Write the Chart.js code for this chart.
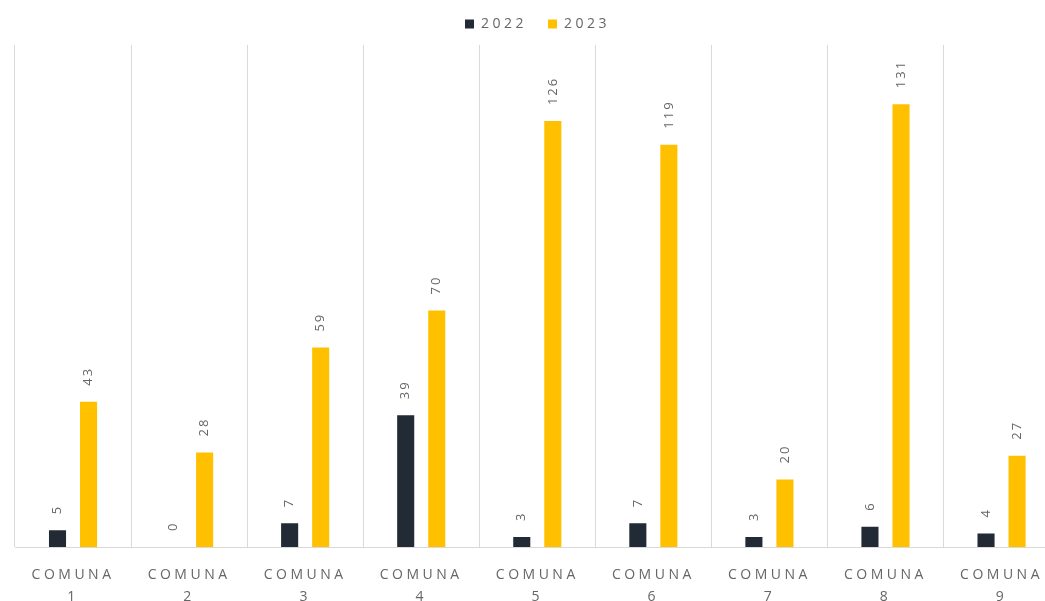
<!DOCTYPE html>
<html>
<head>
<meta charset="utf-8">
<script src="https://cdn.jsdelivr.net/npm/chart.js@4.4.0/dist/chart.umd.min.js"></script>
<style>
  html, body { margin: 0; padding: 0; background: #fff; overflow: hidden; }
  #wrap { width: 1060px; height: 625px; }
</style>
</head>
<body>
<div id="wrap"><canvas id="chart"></canvas></div>
<script>
// chart data
const comunas = ["1", "2", "3", "4", "5", "6", "7", "8", "9"];
const serie2022 = [5, 0, 7, 39, 3, 7, 3, 6, 4];
const serie2023 = [43, 28, 59, 70, 126, 119, 20, 131, 27];
const seriesNames = ["2022", "2023"];

const labels = comunas.map(n => ["COMUNA", n]);

const textGray = "#666666";
const font = "'Open Sans', sans-serif";

// letter spacing: legend a bit wide, x labels very wide (Excel look)
const spacingPlugin = {
  id: "spacing",
  beforeUpdate(chart) {
    // so the legend measures its text with the spacing too
    chart.ctx.letterSpacing = "3.5px";
    // a little more room under the legend
    const lg = chart.legend;
    if (lg && !lg._patched) {
      const fit = lg.fit;
      lg.fit = function () {
        fit.call(this);
        this.height += 4;
      };
      lg._patched = true;
    }
  },
  afterUpdate(chart) {
    const xs = chart.scales.x;
    const orig = Object.getPrototypeOf(xs).draw;
    xs.draw = function (area) {
      this.ctx.save();
      this.ctx.letterSpacing = "6px";
      orig.call(this, area);
      this.ctx.restore();
    };
  },
  beforeDraw(chart) {
    chart.ctx.letterSpacing = "3.5px";
  }
};

// value labels, rotated, above each bar
const valueLabels = {
  id: "valueLabels",
  afterDatasetsDraw(chart) {
    const ctx = chart.ctx;
    ctx.save();
    ctx.letterSpacing = "2px";
    ctx.font = "13px " + font;
    ctx.fillStyle = textGray;
    ctx.textAlign = "left";
    ctx.textBaseline = "middle";
    chart.data.datasets.forEach((ds, i) => {
      chart.getDatasetMeta(i).data.forEach((bar, j) => {
        ctx.save();
        ctx.translate(bar.x, bar.y - 16);
        ctx.rotate(-Math.PI / 2);
        ctx.fillText(String(ds.data[j]), 0, 0);
        ctx.restore();
      });
    });
    ctx.restore();
  }
};

new Chart(document.getElementById("chart"), {
  type: "bar",
  data: {
    labels: labels,
    datasets: [
      { label: seriesNames[0], data: serie2022, backgroundColor: "#222a35" },
      { label: seriesNames[1], data: serie2023, backgroundColor: "#ffc000" }
    ]
  },
  options: {
    responsive: true,
    maintainAspectRatio: false,
    animation: false,
    categoryPercentage: 0.535,
    barPercentage: 0.55,
    layout: { padding: { left: 15, right: 0, top: -4, bottom: 0 } },
    plugins: {
      legend: {
        position: "top",
        labels: {
          boxWidth: 9,
          boxHeight: 9,
          padding: 21,
          color: textGray,
          font: { family: font, size: 14 }
        }
      },
      tooltip: { enabled: false }
    },
    scales: {
      x: {
        grid: { display: true, offset: true, color: "#d9d9d9", drawTicks: false },
        border: { display: true, color: "#d9d9d9" },
        ticks: {
          color: textGray,
          padding: 17,
          maxRotation: 0,
          autoSkip: false,
          font: { family: font, size: 14, lineHeight: 1.57 }
        }
      },
      y: {
        display: false,
        min: 0,
        max: 148.5
      }
    }
  },
  plugins: [spacingPlugin, valueLabels]
});
</script>
</body>
</html>
